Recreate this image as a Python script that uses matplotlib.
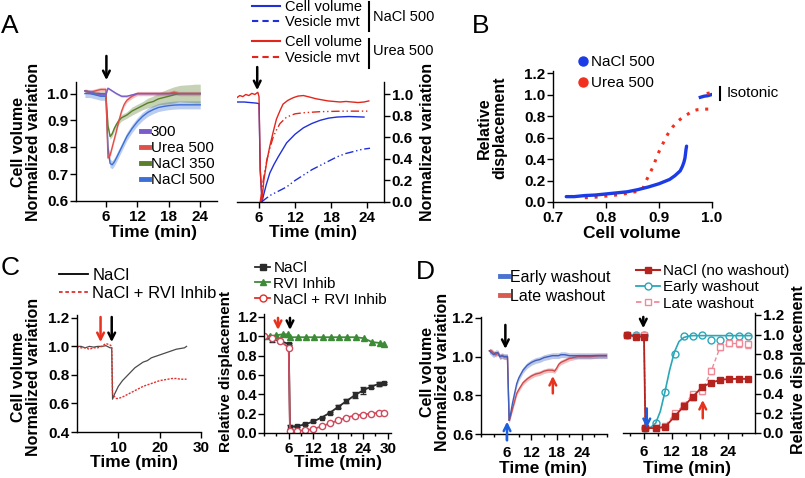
import matplotlib
matplotlib.use("Agg")
import matplotlib.pyplot as plt
import numpy as np
from matplotlib.lines import Line2D
from matplotlib.ticker import FormatStrFormatter, MultipleLocator

# ---------- data ----------
# A (left): normalized cell volume
a_t = [2.0, 3.0, 4.0, 5.0, 6.0, 6.4, 6.8, 7.2, 7.6, 8.0, 8.5, 9.0, 9.5, 10.0,
       11.0, 12.0, 13.0, 14.0, 15.0, 16.0, 17.0, 18.0, 19.0, 20.0, 21.0, 22.0, 23.0, 24.0]
a_300 = [1.01, 1.005, 1.0, 0.995, 0.995, 1.02, 1.015, 1.01, 1.005, 1.0, 0.995, 0.99, 0.99, 0.99,
         0.995, 1.0, 1.0, 1.0, 1.0, 1.0, 1.0, 1.0, 1.0, 1.0, 1.0, 1.0, 1.0, 1.0]
a_urea = [1.01, 1.005, 1.01, 1.015, 1.015, 0.76, 0.77, 0.80, 0.83, 0.86, 0.90, 0.935, 0.96, 0.975,
          0.99, 1.0, 1.0, 1.0, 1.0, 1.0, 1.0, 1.0, 1.005, 1.0, 1.0, 1.0, 1.0, 1.0]
a_nacl350 = [1.01, 1.005, 1.0, 1.0, 1.0, 0.88, 0.84, 0.85, 0.87, 0.885, 0.90, 0.91, 0.915, 0.92,
             0.935, 0.945, 0.955, 0.965, 0.97, 0.98, 0.985, 0.99, 0.995, 1.0, 1.0, 1.0, 1.0, 1.0]
a_nacl350_err = [0.005, 0.005, 0.005, 0.005, 0.005, 0.01, 0.01, 0.01, 0.01, 0.01, 0.012, 0.012, 0.012, 0.012,
                 0.015, 0.015, 0.015, 0.018, 0.02, 0.022, 0.025, 0.028, 0.03, 0.03, 0.032, 0.033, 0.035, 0.035]
a_nacl500 = [1.0, 1.0, 0.995, 0.99, 0.99, 0.80, 0.74, 0.735, 0.745, 0.76, 0.78, 0.80, 0.82, 0.84,
             0.87, 0.895, 0.915, 0.93, 0.94, 0.948, 0.952, 0.955, 0.957, 0.958, 0.958, 0.958, 0.958, 0.958]
a_nacl500_err = 0.015
a_urea_err = 0.008

# A (right): cell volume and vesicle movement
ar_nacl_cell_t = [2.3, 3.5, 4.5, 5.5, 6.0, 6.2, 6.5, 6.7, 7.2, 7.8, 8.5, 9.2, 10.6, 12.0, 13.4,
                  14.8, 16.2, 17.6, 19.0, 21.0, 23.5]
ar_nacl_cell = [0.93, 0.93, 0.925, 0.92, 0.915, 0.3, 0.0, 0.05, 0.16, 0.27, 0.35, 0.42, 0.55, 0.63, 0.69,
                0.73, 0.76, 0.78, 0.79, 0.795, 0.79]
ar_nacl_ves_t = [6.4, 7.8, 9.2, 10.6, 12.0, 13.4, 14.8, 16.2, 17.6, 19.0, 20.4, 21.8, 23.2, 24.5]
ar_nacl_ves = [0.0, 0.06, 0.1, 0.14, 0.2, 0.25, 0.3, 0.34, 0.38, 0.42, 0.45, 0.47, 0.49, 0.5]
ar_urea_cell_t = [2.3, 2.8, 3.3, 3.8, 4.3, 4.8, 5.3, 5.8, 6.0, 6.2, 6.5, 6.8, 7.3, 7.8, 8.4, 8.9, 9.5,
                  10.0, 10.8, 11.7, 12.5, 13.4, 14.5, 15.5, 16.5, 17.5, 18.5, 19.5, 20.5, 21.5, 22.5,
                  23.5, 24.3]
ar_urea_cell = [0.97, 0.99, 0.98, 1.0, 0.99, 1.01, 1.0, 1.02, 0.98, 0.3, 0.02, 0.2, 0.38, 0.52, 0.66,
                0.77, 0.85, 0.91, 0.945, 0.97, 0.985, 0.99, 0.975, 0.96, 0.95, 0.94, 0.935, 0.93,
                0.935, 0.93, 0.925, 0.93, 0.94]
ar_urea_ves_t = [6.2, 6.7, 7.3, 7.8, 8.4, 9.0, 9.5, 10.6, 12.0, 13.4, 16.2, 20.0, 24.5]
ar_urea_ves = [0.0, 0.2, 0.39, 0.5, 0.61, 0.68, 0.73, 0.79, 0.82, 0.83, 0.84, 0.845, 0.845]

# B: relative displacement vs cell volume
b_nacl_x = [0.725, 0.74, 0.76, 0.78, 0.80, 0.82, 0.84, 0.86, 0.88, 0.90, 0.91, 0.92, 0.93, 0.94,
            0.944, 0.947, 0.949, 0.95, 0.951, 0.952]
b_nacl_y = [0.05, 0.05, 0.06, 0.065, 0.075, 0.085, 0.095, 0.115, 0.14, 0.17, 0.19, 0.21, 0.245, 0.29,
            0.33, 0.37, 0.41, 0.45, 0.49, 0.52]
b_urea_x = [0.76, 0.78, 0.80, 0.82, 0.84, 0.86, 0.87, 0.875, 0.882, 0.889, 0.895, 0.901, 0.908, 0.914,
            0.92, 0.926, 0.935, 0.945, 0.955, 0.964, 0.973, 0.983, 0.99, 1.0]
b_urea_y = [0.04, 0.045, 0.055, 0.065, 0.08, 0.1, 0.13, 0.19, 0.26, 0.33, 0.41, 0.48, 0.55, 0.61,
            0.66, 0.70, 0.75, 0.79, 0.82, 0.85, 0.86, 0.865, 0.865, 0.865]
b_iso_nacl_x = [0.978, 0.985, 0.992, 0.999]
b_iso_nacl_y = [0.975, 0.985, 0.99, 1.0]
b_iso_urea_x = [0.99, 0.995, 1.0]
b_iso_urea_y = [1.01, 1.015, 1.02]

# C (left)
c_t = [0, 1, 2, 3, 4, 5, 6, 7, 8, 8.4, 8.6, 9, 9.5, 10, 11, 12, 13, 14, 15, 16, 17, 18, 19, 20,
       21, 22, 23, 24, 25, 26, 26.5]
c_nacl = [1.0, 1.0, 0.99, 1.0, 0.995, 1.0, 1.0, 1.005, 0.99, 0.99, 0.63, 0.66, 0.69, 0.72, 0.76, 0.79,
          0.82, 0.85, 0.87, 0.89, 0.9, 0.92, 0.93, 0.94, 0.95, 0.96, 0.97, 0.98, 0.985, 0.99, 1.0]
c_rvi = [1.0, 0.99, 0.99, 0.98, 0.99, 0.99, 1.0, 1.02, 1.01, 1.0, 0.67, 0.65, 0.635, 0.635, 0.645, 0.66,
         0.675, 0.69, 0.705, 0.72, 0.73, 0.74, 0.75, 0.76, 0.765, 0.77, 0.775, 0.775, 0.77, 0.77, 0.77]

# C (right)
cr_t = [0, 2, 4, 6, 6.3, 8, 10, 12, 14, 16, 18, 20, 22, 24, 26, 28, 29]
cr_nacl = [1.0, 0.97, 0.95, 0.92, 0.06, 0.07, 0.09, 0.12, 0.16, 0.21, 0.27, 0.33, 0.39, 0.44, 0.48, 0.51, 0.52]
cr_nacl_err = [0.0, 0.03, 0.01, 0.01, 0.02, 0.01, 0.01, 0.01, 0.01, 0.01, 0.015, 0.02, 0.03, 0.04, 0.02, 0.02, 0.01]
cr_both = [1.0, 0.98, 0.95, 0.88, 0.02, 0.02, 0.03, 0.04, 0.07, 0.1, 0.13, 0.16, 0.18, 0.19, 0.2, 0.21, 0.21]
cr_both_err = 0.01
cr_rvi_t = [0, 1.5, 3, 4.5, 5.8, 6.2, 8.2, 10.2, 12.2, 14.2, 16.2, 18.2, 20.2, 22.2, 24.2, 26.2, 28.2, 29.2]
cr_rvi = [1.0, 1.0, 1.01, 1.02, 1.02, 0.99, 0.99, 0.99, 0.99, 0.99, 0.99, 0.99, 0.99, 0.99, 0.98, 0.94,
          0.93, 0.92]

# D (left)
d_t = [2.0, 2.5, 3, 3.5, 4, 4.5, 5, 5.5, 6, 6.3, 6.7, 7, 7.5, 8, 8.5, 9, 10, 11, 12, 13, 14, 15, 16,
       17, 17.5, 18, 18.5, 19, 20, 21, 22, 23, 24, 26, 28, 30]
d_early = [1.03, 1.02, 1.01, 1.02, 1.02, 1.0, 1.005, 1.0, 1.0, 1.0, 0.67, 0.7, 0.76, 0.81, 0.86, 0.89,
           0.93, 0.955, 0.97, 0.98, 0.985, 0.995, 1.0, 1.005, 1.005, 1.005, 1.005, 1.01, 1.01, 1.005,
           1.005, 1.005, 1.005, 1.005, 1.005, 1.005]
d_late = [1.03, 1.03, 1.02, 1.01, 1.02, 1.0, 1.005, 1.0, 1.0, 1.0, 0.67, 0.69, 0.73, 0.77, 0.81, 0.83,
          0.865, 0.885, 0.9, 0.91, 0.915, 0.925, 0.93, 0.93, 0.925, 0.94, 0.96, 0.97, 0.98, 0.99, 0.995,
          1.0, 1.0, 1.0, 1.005, 1.005]
d_early_err = 0.015
d_late_err = 0.012

# D (right)
dr_t = [2.3, 4.2, 6.0, 6.3, 8.6, 10.5, 12.6, 14.5, 16.5, 18.5, 20.4, 22.3, 24.3, 26.3, 28.3]
dr_nacl = [1.0, 0.98, 0.98, 0.05, 0.05, 0.06, 0.17, 0.27, 0.37, 0.47, 0.51, 0.54, 0.55, 0.55, 0.55]
dr_nacl_err = [0.01, 0.02, 0.01, 0.01, 0.01, 0.02, 0.03, 0.03, 0.03, 0.02, 0.02, 0.02, 0.02, 0.02, 0.02]
dr_early = [1.0, 1.0, 1.0, 0.05, 0.1, 0.42, 0.8, 0.99, 0.99, 1.0, 0.95, 0.95, 0.99, 0.99, 0.99]
dr_late = [1.0, 0.99, 1.0, 0.05, 0.05, 0.07, 0.2, 0.28, 0.4, 0.43, 0.63, 0.87, 0.91, 0.91, 0.9]
dr_late_err = [0.01, 0.01, 0.01, 0.01, 0.01, 0.01, 0.02, 0.02, 0.02, 0.03, 0.03, 0.03, 0.03, 0.04, 0.04]
dr_fit_t = [6.3, 7.5, 8.5, 9.5, 10.5, 11.5, 12.5, 13.5, 14.5, 15.5, 16.5, 29.0]
dr_fit = [0.05, 0.06, 0.1, 0.22, 0.42, 0.64, 0.82, 0.93, 0.97, 0.985, 0.99, 0.99]

# ---------- figure ----------
plt.rcParams['font.family'] = ['Liberation Sans', 'DejaVu Sans']
plt.rcParams['font.weight'] = 'bold'
plt.rcParams['axes.linewidth'] = 1.0

W, H = 805, 478
fig = plt.figure(figsize=(W / 100, H / 100), dpi=100)


def box(x0, y0, x1, y1):
    return [x0 / W, 1 - y1 / H, (x1 - x0) / W, (y1 - y0) / H]


def fp(x, y):
    return (x / W, 1 - y / H)


def prism(ax, right=False, xpad=2.5):
    ax.spines['top'].set_visible(False)
    ax.spines['left' if right else 'right'].set_visible(False)
    if right:
        ax.yaxis.tick_right()
    ax.tick_params(which='major', direction='out', length=4, width=1, labelsize=11, pad=1.5)
    ax.tick_params(axis='x', which='major', pad=xpad)
    ax.tick_params(which='minor', direction='out', length=2.5, width=1)
    ax.yaxis.set_major_formatter(FormatStrFormatter('%.1f'))


def ylab(x, y, s, size=11.5):
    fig.text(*fp(x, y), s, rotation=90, ha='center', va='center', fontsize=size, linespacing=1.05)


def xlab(x, y, s):
    fig.text(*fp(x, y), s, ha='center', va='center', fontsize=12.5)


def arrow(ax, x, y0, y1, color='black'):
    ax.annotate('', xy=(x, y1), xytext=(x, y0), annotation_clip=False,
                arrowprops=dict(arrowstyle='->', color=color, lw=1.8, shrinkA=0, shrinkB=0,
                                mutation_scale=12))


def legend(handles, labels, x, y, size=11, **kw):
    opts = dict(loc='upper left', bbox_to_anchor=fp(x, y), bbox_transform=fig.transFigure,
                frameon=False, borderpad=0, borderaxespad=0, handletextpad=0.3, labelspacing=0.15,
                prop={'weight': 'normal', 'size': size})
    opts.update(kw)
    return fig.legend(handles, labels, **opts)


def vbar(x, y0, y1):
    fig.add_artist(Line2D([x / W, x / W], [1 - y0 / H, 1 - y1 / H], transform=fig.transFigure,
                          color='black', lw=1.5))


RED_ARROW = '#e8321e'
BLUE_ARROW = '#1e5fe0'

# ----- A left -----
c300, curea, c350, c500 = '#7a5cc8', '#e0504a', '#5b7f2b', '#3b6fd6'
ax = fig.add_axes(box(76, 82, 217, 201))
t = np.array(a_t)
for vals, err, col in [(a_nacl500, a_nacl500_err, c500), (a_nacl350, a_nacl350_err, c350),
                       (a_urea, a_urea_err, curea), (a_300, 0.004, c300)]:
    v = np.array(vals)
    e = np.array(err)
    ax.fill_between(t, v - e, v + e, color=col, alpha=0.35, lw=0)
    ax.plot(t, v, color=col, lw=1.0)
ax.set_xlim(0.3, 27.2)
ax.set_ylim(0.6, 1.043)
ax.set_xticks([6, 12, 18, 24])
ax.set_yticks([0.6, 0.7, 0.8, 0.9, 1.0])
prism(ax)
arrow(ax, 6.1, 1.14, 1.05)
legend([Line2D([], [], color=c, lw=3.5) for c in (c300, curea, c350, c500)],
       ['300', 'Urea 500', 'NaCl 350', 'NaCl 500'], 141, 125, size=11,
       handlelength=0.55, handletextpad=0.1, labelspacing=0.13)
ylab(26, 142, 'Cell volume\nNormalized variation')
xlab(153, 233, 'Time (min)')

# ----- A right -----
cn, cu = '#2030d8', '#e3261c'
ves_ls = (0, (6, 2, 1, 2, 1, 2))
ax = fig.add_axes(box(237, 82, 384, 202))
ax.plot(ar_nacl_cell_t, ar_nacl_cell, color=cn, lw=1.0)
ax.plot(ar_nacl_ves_t, ar_nacl_ves, color=cn, lw=1.0, ls=ves_ls)
ax.plot(ar_urea_ves_t, ar_urea_ves, color=cu, lw=1.0, ls=ves_ls)
ax.plot(ar_urea_cell_t, ar_urea_cell, color=cu, lw=1.0)
ax.set_xlim(2.33, 26.83)
ax.set_ylim(0, 1.116)
ax.set_xticks([6, 12, 18, 24])
ax.set_yticks([0, 0.2, 0.4, 0.6, 0.8, 1.0])
prism(ax, right=True)
arrow(ax, 5.7, 1.255, 1.04)
legend([Line2D([], [], color=cn, lw=1.5), Line2D([], [], color=cn, lw=1.5, ls=(0, (3, 2)))],
       ['Cell volume', 'Vesicle mvt'], 252, 0, size=10.5, handlelength=1.9, handletextpad=0.35,
       labelspacing=0.1)
legend([Line2D([], [], color=cu, lw=1.5), Line2D([], [], color=cu, lw=1.5, ls=(0, (3, 2)))],
       ['Cell volume', 'Vesicle mvt'], 252, 35, size=10.5, handlelength=1.9, handletextpad=0.35,
       labelspacing=0.12)
vbar(369, 2, 31)
vbar(369, 39, 68)
fig.text(*fp(373, 17), 'NaCl 500', fontsize=10.5, fontweight='normal', va='center')
fig.text(*fp(373, 51), 'Urea 500', fontsize=10.5, fontweight='normal', va='center')
ylab(427, 142, 'Normalized variation')
xlab(313, 233, 'Time (min)')

# ----- B -----
cbn, cbu = '#1a3be6', '#f2301f'
ax = fig.add_axes(box(553, 71, 712, 202))
ax.plot(b_urea_x, b_urea_y, color=cbu, lw=2.2, ls=(0, (1, 2.2)))
ax.plot(b_nacl_x, b_nacl_y, color=cbn, lw=2.4, solid_capstyle='round')
ax.plot(b_iso_nacl_x, b_iso_nacl_y, color=cbn, lw=2.4)
ax.plot(b_iso_urea_x, b_iso_urea_y, color=cbu, lw=2.2, ls=(0, (1, 1.5)))
ax.set_xlim(0.7, 1.0)
ax.set_ylim(0, 1.22)
ax.set_xticks([0.7, 0.8, 0.9, 1.0])
ax.set_yticks([0, 0.2, 0.4, 0.6, 0.8, 1.0, 1.2])
prism(ax)
ax.xaxis.set_major_formatter(FormatStrFormatter('%.1f'))
legend([Line2D([], [], color=cbn, marker='o', ls='none', ms=6.5),
        Line2D([], [], color=cbu, marker='o', ls='none', ms=6.5)],
       ['NaCl 500', 'Urea 500'], 578, 55, size=11, handlelength=0.6, handletextpad=0.25,
       labelspacing=0.45)
vbar(720, 87, 100)
fig.text(*fp(727, 93), 'Isotonic', fontsize=11, fontweight='normal', va='center')
ylab(492, 128, 'Relative\ndisplacement')
xlab(632, 233, 'Cell volume')

# ----- C left -----
ck, cr = '#4a4a4a', '#e0302a'
ax = fig.add_axes(box(77, 315, 201, 432))
ax.plot(c_t, c_nacl, color=ck, lw=0.9)
ax.plot(c_t, c_rvi, color=cr, lw=1.0, ls=(0, (1.5, 1)))
ax.set_xlim(0, 30)
ax.set_ylim(0.4, 1.22)
ax.set_xticks([10, 20, 30])
ax.set_yticks([0.4, 0.6, 0.8, 1.0, 1.2])
prism(ax)
arrow(ax, 5.7, 1.206, 1.03, RED_ARROW)
arrow(ax, 8.4, 1.206, 1.03)
legend([Line2D([], [], color='black', lw=1.3), Line2D([], [], color=cr, lw=1.3, ls=(0, (2, 1.5)))],
       ['NaCl', 'NaCl + RVI Inhib'], 59, 268, size=12, handlelength=1.75, handletextpad=0.25,
       labelspacing=0.15)
ylab(26, 377, 'Cell volume\nNormalized variation')
xlab(134, 463, 'Time (min)')

# ----- C right -----
cbk, cg, cp = '#2b2b2b', '#3d8b37', '#d04a5e'
ax = fig.add_axes(box(264, 314, 391, 433))
ax.plot(cr_rvi_t, cr_rvi, color=cg, lw=1.3, marker='^', ms=4.5)
ax.errorbar(cr_t, cr_nacl, yerr=cr_nacl_err, color=cbk, lw=1.3, marker='s', ms=3.5, capsize=2,
            elinewidth=0.8)
ax.errorbar(cr_t, cr_both, yerr=cr_both_err, color=cp, lw=1.3, marker='o', ms=4.5, mfc='white',
            capsize=2, elinewidth=0.8)
ax.set_xlim(0, 30.8)
ax.set_ylim(0, 1.23)
ax.set_xticks([6, 12, 18, 24, 30])
ax.xaxis.set_minor_locator(MultipleLocator(3))
ax.set_yticks([0, 0.2, 0.4, 0.6, 0.8, 1.0, 1.2])
prism(ax)
ax.tick_params(axis='y', labelsize=10.5, pad=1)
arrow(ax, 3.4, 1.19, 1.065, RED_ARROW)
arrow(ax, 6.3, 1.19, 1.065)
legend([Line2D([], [], color=cbk, lw=1.3, marker='s', ms=4),
        Line2D([], [], color=cg, lw=1.3, marker='^', ms=5),
        Line2D([], [], color=cr, lw=1.3, marker='o', ms=5, mfc='white')],
       ['NaCl', 'RVI Inhib', 'NaCl + RVI Inhib'], 255, 261, size=11, handlelength=1.0,
       handletextpad=0.2, labelspacing=0.12)
ylab(226, 372, 'Relative displacement', size=11)
xlab(338, 463, 'Time (min)')

# ----- D left -----
ce, cl = '#3f5fbf', '#d04a4a'
ax = fig.add_axes(box(481, 317, 607, 434))
t = np.array(d_t)
for vals, err, col in [(d_late, d_late_err, cl), (d_early, d_early_err, ce)]:
    v = np.array(vals)
    ax.fill_between(t, v - err, v + err, color=col, alpha=0.35, lw=0)
    ax.plot(t, v, color=col, lw=1.0)
ax.set_xlim(0, 30)
ax.set_ylim(0.6, 1.205)
ax.set_xticks([6, 12, 18, 24])
ax.xaxis.set_minor_locator(MultipleLocator(3))
ax.set_yticks([0.6, 0.8, 1.0, 1.2])
prism(ax, xpad=4.5)
arrow(ax, 5.8, 1.164, 1.04)
arrow(ax, 6.2, 0.567, 0.664, BLUE_ARROW)
arrow(ax, 17.1, 0.81, 0.9, RED_ARROW)
legend([Line2D([], [], color='#4a72d0', lw=3.5), Line2D([], [], color='#d85a50', lw=3.5)],
       ['Early washout', 'Late washout'], 500, 270, size=11.5, handlelength=0.5, handletextpad=0.1,
       labelspacing=0.25)
ylab(435, 372, 'Cell volume\nNormalized variation')
xlab(543, 469, 'Time (min)')

# ----- D right -----
cdn, cte, cpk = '#b5231f', '#2aa7b8', '#f08a98'
ax = fig.add_axes(box(623, 313, 755, 433))
ax.plot(dr_t[:3], dr_early[:3], color=cte, lw=1.2)
ax.plot([dr_t[2], dr_t[3]], [dr_early[2], dr_early[3]], color='#808080', lw=1.0, ls=':')
ax.plot(dr_fit_t, dr_fit, color=cte, lw=1.2)
ax.plot(dr_t, dr_early, color=cte, ls='none', marker='o', ms=5, mfc='none', mew=1.0)
ax.errorbar(dr_t, dr_late, yerr=dr_late_err, color=cpk, lw=1.0, ls=(0, (3, 2)), marker='s', ms=5,
            mfc='white', capsize=2, elinewidth=0.8)
ax.errorbar(dr_t, dr_nacl, yerr=dr_nacl_err, color=cdn, lw=1.3, marker='s', ms=4.5, capsize=2,
            elinewidth=0.8)
ax.set_xlim(1.5, 29.8)
ax.set_ylim(0, 1.22)
ax.set_xticks([6, 12, 18, 24])
ax.xaxis.set_minor_locator(MultipleLocator(3))
ax.set_yticks([0, 0.2, 0.4, 0.6, 0.8, 1.0, 1.2])
prism(ax, right=True, xpad=4.5)
arrow(ax, 5.85, 1.18, 1.065)
arrow(ax, 6.6, 0.25, 0.05, BLUE_ARROW)
arrow(ax, 18.6, 0.15, 0.336, RED_ARROW)
legend([Line2D([], [], color=cdn, lw=1.5, marker='s', ms=5),
        Line2D([], [], color=cte, lw=1.3, marker='o', ms=5, mfc='white'),
        Line2D([], [], color=cpk, lw=1.3, ls=(0, (3, 2)), marker='s', ms=5, mfc='white')],
       ['NaCl (no washout)', 'Early washout', 'Late washout'], 636, 264, size=11,
       handlelength=1.6, handletextpad=0.15, labelspacing=0.15)
ylab(798, 370, 'Relative displacement')
xlab(687, 469, 'Time (min)')

# panel letters
for letter, x, y in [('A', 10, 26), ('B', 481, 26), ('C', 10, 268), ('D', 425, 272)]:
    fig.text(*fp(x, y), letter, fontsize=19, fontweight='normal', ha='center', va='center')

fig.savefig('out.png', dpi=100)
